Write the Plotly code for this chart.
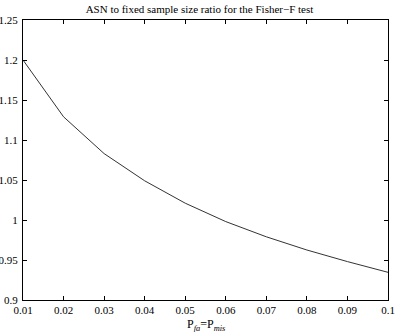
import plotly.graph_objects as go

p_values = [0.01, 0.02, 0.03, 0.04, 0.05, 0.06, 0.07, 0.08, 0.09, 0.10]
asn_ratio = [1.200, 1.129, 1.083, 1.049, 1.021, 0.998, 0.979, 0.9625, 0.948, 0.9346]
x_ticks = [0.01, 0.02, 0.03, 0.04, 0.05, 0.06, 0.07, 0.08, 0.09, 0.1]
x_tick_labels = ["0.01", "0.02", "0.03", "0.04", "0.05", "0.06", "0.07", "0.08", "0.09", "0.1"]
y_ticks = [0.9, 0.95, 1.0, 1.05, 1.1, 1.15, 1.2, 1.25]
y_tick_labels = ["0.9", "0.95", "1", "1.05", "1.1", "1.15", "1.2", "1.25"]

font = "Liberation Serif, Times New Roman, serif"

fig = go.Figure()
fig.add_trace(go.Scatter(x=p_values, y=asn_ratio, mode="lines",
                         line=dict(color="#333333", width=1), showlegend=False))

axis_common = dict(showgrid=False, zeroline=False, showline=True, mirror="allticks",
                   linecolor="black", linewidth=1, ticks="inside", ticklen=4,
                   tickcolor="black", automargin=False,
                   tickfont=dict(family=font, size=11, color="black"))

fig.update_layout(
    width=399, height=332,
    margin=dict(l=23, r=11, t=20, b=32),
    paper_bgcolor="white", plot_bgcolor="white",
    title=dict(text="ASN to fixed sample size ratio for the Fisher\u2212F test",
               x=0.5, xanchor="center", y=0.985, yanchor="top",
               font=dict(family=font, size=11, color="black")),
    xaxis=dict(range=[0.01, 0.1], tickvals=x_ticks, ticktext=x_tick_labels, **axis_common),
    yaxis=dict(range=[0.9, 1.25], tickvals=y_ticks, ticktext=y_tick_labels, ticklabelstandoff=2,
               **axis_common),
    annotations=[dict(text="P<sub><i>fa</i></sub>=P<sub><i>mis</i></sub>",
                      xref="paper", yref="paper", x=0.5, y=0, yshift=-15,
                      xanchor="center", yanchor="top", showarrow=False,
                      font=dict(family=font, size=12, color="black"))],
)

fig.write_html("out.html", config={"staticPlot": True, "displayModeBar": False},
               post_script="document.body.style.margin='0';document.body.style.overflow='hidden';")
